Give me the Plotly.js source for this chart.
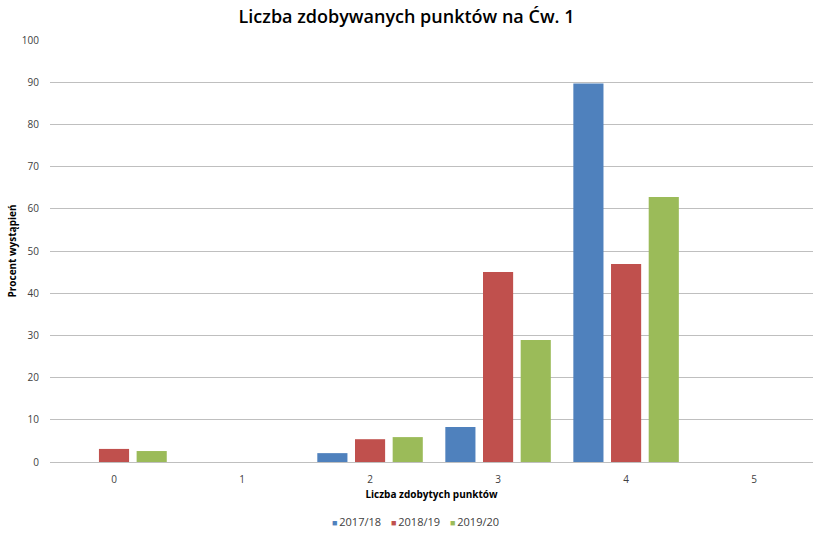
<!DOCTYPE html>
<html>
<head>
<meta charset="utf-8">
<script src="https://cdn.plot.ly/plotly-3.0.1.min.js"></script>
<style>html,body{margin:0;padding:0;background:#fff;}#chart{width:813px;height:533px;}</style>
</head>
<body>
<div id="chart"></div>
<script>
const categories = ["0", "1", "2", "3", "4", "5"];
const seriesNames = ["2017/18", "2018/19", "2019/20"];
const v2017 = [null, null, 2.1, 8.3, 89.7, null];
const v2018 = [3.1, null, 5.4, 45.0, 46.9, null];
const v2019 = [2.6, null, 5.9, 28.9, 62.8, null];
const colors = ["#4f81bd", "#c0504d", "#9bbb59"];
const yTicks = [0,10,20,30,40,50,60,70,80,90,100];

const allValues = [v2017, v2018, v2019];
const traces = allValues.map((vals, i) => ({
  type: "bar",
  x: categories,
  y: vals,
  name: seriesNames[i],
  marker: {color: colors[i]},
  showlegend: false,
  hoverinfo: "x+y+name"
}));

// legend drawn as text annotations (small coloured squares + labels)
const legendLeftPx = [330, 389, 448];
const plotLeft = 50, plotWidth = 763;
const annotations = seriesNames.map((n, i) => ({
  xref: "paper", yref: "paper",
  x: (legendLeftPx[i] - plotLeft) / plotWidth, xanchor: "left",
  y: -0.142, yanchor: "middle",
  showarrow: false,
  text: "<span style='color:" + colors[i] + ";font-size:9px'>■</span>\u2009" + n,
  font: {size: 11, color: "#404040", family: "Open Sans, sans-serif"}
}));

const layout = {
  width: 813, height: 533,
  margin: {l: 50, r: 0, t: 40, b: 71},
  paper_bgcolor: "#fff", plot_bgcolor: "#fff",
  font: {family: "Open Sans, Liberation Sans, sans-serif", color: "#595959", size: 10},
  title: {text: "Liczba zdobywanych punktów na Ćw. 1", x: 0.5, xanchor: "center", y: 0.968, yanchor: "middle",
          font: {size: 18, color: "#000", family: "Open Sans, sans-serif", weight: 600}},
  barmode: "group",
  bargap: 0.117,
  bargroupgap: 0.2,
  xaxis: {
    type: "category",
    range: [-0.5, 5.46],
    showgrid: false, zeroline: false, showline: false,
    ticks: "outside", ticklen: 8, tickcolor: "rgba(0,0,0,0)",
    tickfont: {size: 10, color: "#404040"},
    title: {text: "<b>Liczba zdobytych punktów</b>", standoff: 5, font: {size: 10, color: "#000"}}
  },
  yaxis: {
    range: [0, 100],
    tickvals: yTicks,
    gridcolor: "#bfbfbf", gridwidth: 1,
    zeroline: true, zerolinecolor: "#bfbfbf",
    showline: false, ticks: "outside", ticklen: 8, tickcolor: "rgba(0,0,0,0)",
    tickfont: {size: 10, color: "#404040"},
    title: {text: "<b>Procent wystąpień</b>", standoff: 3, font: {size: 10, color: "#000"}}
  },
  showlegend: false,
  annotations: annotations
};

Plotly.newPlot("chart", traces, layout, {displayModeBar: false, staticPlot: true});
</script>
</body>
</html>
